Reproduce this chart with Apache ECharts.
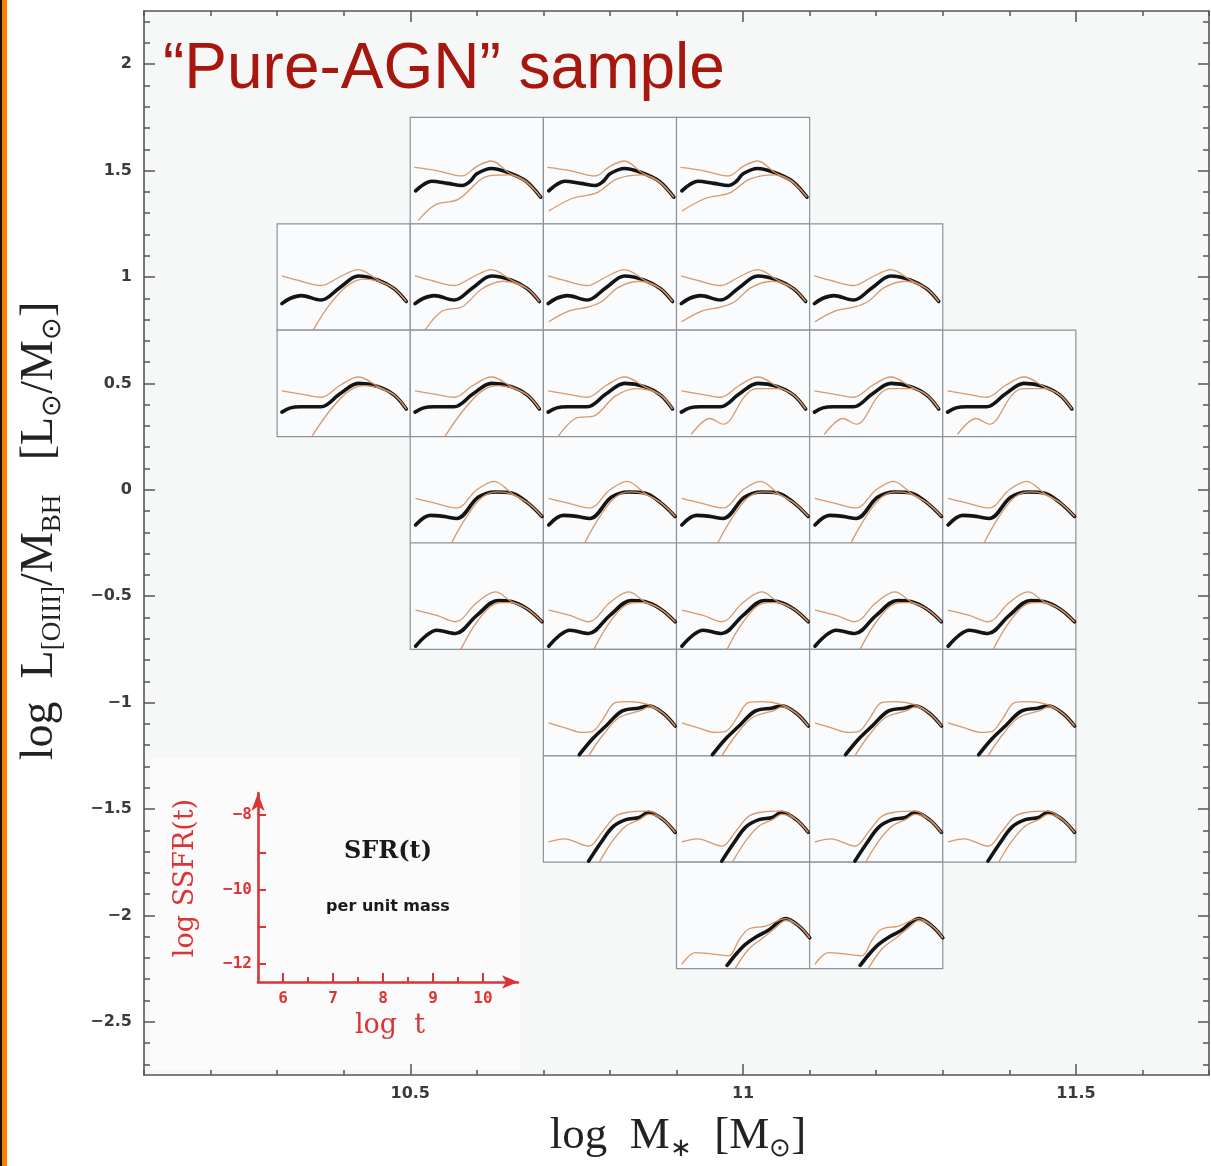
<!DOCTYPE html>
<html><head><meta charset="utf-8">
<script src="https://cdn.jsdelivr.net/npm/echarts@6/dist/echarts.min.js"></script>
<style>html,body{margin:0;padding:0;background:#fff}#c{width:1211px;height:1166px}</style>
</head><body><div id="c"></div>
<script>
// ---------- main axes ----------
const X_RANGE = [10.1, 11.7];
const Y_RANGE = [-2.75, 2.25];
const X_MAJOR = [10.5, 11, 11.5];
const Y_MAJOR = [2, 1.5, 1, 0.5, 0, -0.5, -1, -1.5, -2, -2.5];
// ---------- cells (log M*, log L/M_BH centres) ----------
const CELL_W = 0.2, CELL_H = 0.5;
const ROW_LUM    = [1.5, 1.0, 0.5, 0, -0.5, -1, -1.5, -2];
const ROW_MASSES = [
  [10.6, 10.8, 11.0],
  [10.4, 10.6, 10.8, 11.0, 11.2],
  [10.4, 10.6, 10.8, 11.0, 11.2, 11.4],
  [10.6, 10.8, 11.0, 11.2, 11.4],
  [10.6, 10.8, 11.0, 11.2, 11.4],
  [10.8, 11.0, 11.2, 11.4],
  [10.8, 11.0, 11.2, 11.4],
  [11.0, 11.2]
];
const ROW_SHAPE = ['R15', 'R10', 'R05', 'R00', 'RM05', 'RM10', 'RM15', 'RM20'];
const ROW_LOWER = [
  ['R15A', 'R15B', 'R15B'],
  ['R10A', 'R10B', 'R10C', 'R10C', 'R10C'],
  ['R05A', 'R05A', 'R05B', 'R05C', 'R05C', 'R05C'],
  ['R00', 'R00', 'R00', 'R00', 'R00'],
  ['RM05', 'RM05', 'RM05', 'RM05', 'RM05'],
  ['RM10', 'RM10', 'RM10', 'RM10'],
  ['RM15', 'RM15', 'RM15', 'RM15'],
  ['RM20', 'RM20']
];
// mini plots: [log t, log SSFR]
const MINI_T = [5.5, 10.5];
const MINI_S = [-13, -7];
const BLACK_R15 = [[5.7,-11.14],[6.0,-10.78],[6.3,-10.6],[6.9,-10.72],[7.45,-10.84],[7.75,-10.6],[8.0,-10.18],[8.55,-9.88],[9.2,-10.12],[9.85,-10.6],[10.4,-11.5]];
const UPPER_R15 = [[5.65,-9.82],[6.5,-10.0],[7.45,-10.3],[8.0,-9.76],[8.55,-9.46],[9.2,-10.12],[9.85,-10.6],[10.4,-11.5]];
const LOWER_R15A = [[5.8,-12.82],[6.45,-11.92],[7.3,-11.62],[8.45,-10.3],[9.2,-10.24],[9.85,-10.66],[10.4,-11.5]];
const LOWER_R15B = [[5.7,-12.28],[6.6,-11.56],[7.5,-11.26],[8.25,-10.48],[9.2,-10.24],[9.85,-10.66],[10.4,-11.5]];
const BLACK_R10 = [[5.68,-11.5],[6.0,-11.2],[6.4,-11.05],[7.15,-11.3],[7.85,-10.6],[8.55,-9.94],[9.3,-10.18],[9.9,-10.66],[10.35,-11.38]];
const UPPER_R10 = [[5.68,-9.94],[6.4,-10.24],[7.15,-10.48],[7.85,-10.0],[8.55,-9.58],[9.3,-10.18],[9.9,-10.66],[10.35,-11.38]];
const LOWER_R10A = [[6.85,-13],[7.5,-11.5],[8.2,-10.42],[8.8,-10.12],[9.3,-10.24],[9.9,-10.66],[10.35,-11.38]];
const LOWER_R10B = [[6.05,-13],[6.7,-11.92],[7.45,-11.68],[8.2,-10.66],[9.0,-10.24],[9.9,-10.66],[10.35,-11.38]];
const LOWER_R10C = [[5.7,-12.52],[6.45,-11.92],[7.2,-11.68],[7.7,-11.38],[8.3,-10.6],[9.1,-10.24],[9.9,-10.66],[10.35,-11.38]];
const BLACK_R05 = [[5.68,-11.62],[6.0,-11.38],[6.4,-11.32],[7.15,-11.32],[7.85,-10.6],[8.55,-10.0],[9.3,-10.18],[9.9,-10.66],[10.35,-11.44]];
const UPPER_R05 = [[5.68,-10.42],[6.4,-10.6],[7.15,-10.78],[7.85,-10.12],[8.55,-9.64],[9.3,-10.18],[9.9,-10.66],[10.35,-11.44]];
const LOWER_R05A = [[6.8,-13],[7.5,-11.5],[8.2,-10.42],[8.8,-10.12],[9.3,-10.24],[9.9,-10.66],[10.35,-11.44]];
const LOWER_R05B = [[6.05,-13],[6.7,-11.98],[7.45,-11.8],[8.2,-10.72],[9.0,-10.3],[9.9,-10.66],[10.35,-11.44]];
const LOWER_R05C = [[6.05,-12.88],[6.75,-11.98],[7.25,-12.3],[8.1,-10.66],[8.5,-10.3],[9.35,-10.3],[9.9,-10.66],[10.35,-11.44]];
const BLACK_R00 = [[5.7,-11.98],[6.25,-11.44],[6.75,-11.5],[7.25,-11.62],[8.05,-10.42],[8.7,-10.12],[9.3,-10.18],[9.9,-10.72],[10.45,-11.5]];
const UPPER_R00 = [[5.7,-10.48],[6.5,-10.78],[7.25,-11.02],[8.0,-10.0],[8.65,-9.52],[9.3,-10.18],[9.9,-10.72],[10.45,-11.5]];
const LOWER_R00 = [[7.05,-13],[7.6,-11.56],[8.2,-10.42],[8.8,-10.12],[9.3,-10.24],[9.9,-10.72],[10.45,-11.5]];
const BLACK_RM05 = [[5.7,-12.82],[6.1,-12.22],[6.5,-11.92],[7.2,-12.1],[8.0,-11.08],[8.8,-10.24],[9.3,-10.3],[9.9,-10.72],[10.45,-11.44]];
const UPPER_RM05 = [[5.7,-10.78],[6.5,-11.08],[7.2,-11.44],[8.0,-10.36],[8.7,-9.76],[9.3,-10.3],[9.9,-10.72],[10.45,-11.44]];
const LOWER_RM05 = [[7.4,-13],[7.9,-11.68],[8.5,-10.6],[9.0,-10.36],[9.3,-10.36],[9.9,-10.72],[10.45,-11.44]];
const BLACK_RM10 = [[6.85,-12.94],[7.35,-12.04],[7.85,-11.32],[8.45,-10.48],[9.1,-10.3],[9.45,-10.18],[10.0,-10.6],[10.45,-11.32]];
const UPPER_RM10 = [[5.7,-11.14],[6.35,-11.44],[6.95,-11.68],[7.35,-11.62],[7.75,-10.9],[8.2,-10.0],[8.7,-9.94],[9.45,-10.12],[10.0,-10.6],[10.45,-11.32]];
const LOWER_RM10 = [[7.2,-13],[7.75,-11.8],[8.35,-10.84],[9.2,-10.42],[9.45,-10.24],[10.0,-10.6],[10.45,-11.32]];
const BLACK_RM15 = [[7.2,-12.94],[7.65,-11.92],[8.1,-11.02],[8.6,-10.6],[9.1,-10.48],[9.45,-10.18],[10.0,-10.6],[10.45,-11.32]];
const UPPER_RM15 = [[5.7,-11.86],[6.3,-11.68],[7.2,-12.1],[7.7,-11.32],[8.2,-10.42],[8.7,-10.18],[9.45,-10.12],[10.0,-10.6],[10.45,-11.32]];
const LOWER_RM15 = [[7.6,-13],[8.1,-11.8],[8.6,-10.96],[9.1,-10.6],[9.45,-10.3],[10.0,-10.6],[10.45,-11.32]];
const BLACK_RM20 = [[7.4,-12.82],[7.75,-12.16],[8.1,-11.62],[8.5,-11.2],[8.95,-10.84],[9.6,-10.18],[10.1,-10.6],[10.5,-11.26]];
const UPPER_RM20 = [[5.7,-12.76],[6.2,-12.1],[6.75,-12.16],[7.45,-12.28],[7.85,-11.38],[8.2,-10.78],[8.85,-10.6],[9.6,-10.18],[10.1,-10.6],[10.5,-11.26]];
const LOWER_RM20 = [[7.7,-13],[8.2,-11.92],[8.7,-11.32],[9.2,-10.72],[9.6,-10.3],[10.1,-10.6],[10.5,-11.26]];
// ---------- inset (SFR(t) key) ----------
const INSET_T = [5.5, 10.7];
const INSET_S = [-12.5, -7.4];
const INSET_T_MAJOR = [6, 7, 8, 9, 10];
const INSET_T_MINOR = [6.5, 7.5, 8.5, 9.5];
const INSET_S_TICKS = [-8, -9, -10, -11, -12];
const INSET_S_LABELS = [-8, -10, -12];

const SHAPES = {
  R15: [BLACK_R15, UPPER_R15], R10: [BLACK_R10, UPPER_R10], R05: [BLACK_R05, UPPER_R05],
  R00: [BLACK_R00, UPPER_R00], RM05: [BLACK_RM05, UPPER_RM05], RM10: [BLACK_RM10, UPPER_RM10],
  RM15: [BLACK_RM15, UPPER_RM15], RM20: [BLACK_RM20, UPPER_RM20]
};
const LOWERS = {
  R15A: LOWER_R15A, R15B: LOWER_R15B, R10A: LOWER_R10A, R10B: LOWER_R10B, R10C: LOWER_R10C,
  R05A: LOWER_R05A, R05B: LOWER_R05B, R05C: LOWER_R05C, R00: LOWER_R00, RM05: LOWER_RM05,
  RM10: LOWER_RM10, RM15: LOWER_RM15, RM20: LOWER_RM20
};

const AX = '#555';
const RED = '#dc3434';
const ORANGE = '#d69463';
function fmt(v) { const a = Math.round(Math.abs(v) * 100) / 100; return (v < 0 ? '\u2212' : '') + a; }
const minorX = []; for (let i = 101; i <= 117; i++) minorX.push(i / 10);
const minorY = []; for (let i = -27; i <= 22; i++) minorY.push(i / 10);

const chart = echarts.init(document.getElementById('c'));

function mainAxis(pos, isX, major, showLine, showLabel, ticks, len) {
  return {
    gridIndex: 0, type: 'value', position: pos,
    min: isX ? X_RANGE[0] : Y_RANGE[0], max: isX ? X_RANGE[1] : Y_RANGE[1],
    axisLine: { show: showLine, onZero: false, lineStyle: { color: AX, width: 1.6 } },
    axisTick: { show: true, inside: true, length: len, customValues: ticks, lineStyle: { color: AX, width: 1.5 } },
    axisLabel: showLabel ? { show: true, customValues: major, formatter: fmt, color: '#3a3a3a',
      fontSize: 16, fontWeight: 'bold', fontFamily: 'DejaVu Sans', margin: isX ? 11 : 12 } : { show: false },
    splitLine: { show: false }
  };
}

const grids = [
  { left: 144, top: 11, width: 1065, height: 1064, show: true, backgroundColor: '#f6f7f7', borderWidth: 0, outerBoundsMode: 'none' },
  { left: 258, top: 793, width: 260, height: 189, show: false, outerBoundsMode: 'none' }
];
const xAxes = [
  mainAxis('bottom', true, X_MAJOR, true, true, X_MAJOR, 11),
  mainAxis('bottom', true, X_MAJOR, false, false, minorX, 5),
  mainAxis('top', true, X_MAJOR, true, false, X_MAJOR, 11),
  mainAxis('top', true, X_MAJOR, false, false, minorX, 5),
  { gridIndex: 1, type: 'value', position: 'bottom', min: INSET_T[0], max: INSET_T[1],
    axisLine: { show: true, onZero: false, symbol: ['none', 'arrow'], symbolSize: [10, 16], lineStyle: { color: RED, width: 2.6 } },
    axisTick: { show: true, inside: true, length: 9, customValues: INSET_T_MAJOR, lineStyle: { color: RED, width: 2 } },
    axisLabel: { customValues: INSET_T_MAJOR, color: RED, fontSize: 16, fontWeight: 'bold', fontFamily: 'DejaVu Sans Mono', margin: 9 },
    splitLine: { show: false } },
  { gridIndex: 1, type: 'value', position: 'bottom', min: INSET_T[0], max: INSET_T[1],
    axisLine: { show: false, onZero: false },
    axisTick: { show: true, inside: true, length: 5, customValues: INSET_T_MINOR, lineStyle: { color: RED, width: 2 } },
    axisLabel: { show: false }, splitLine: { show: false } }
];
const yAxes = [
  mainAxis('left', false, Y_MAJOR, true, true, Y_MAJOR, 11),
  mainAxis('left', false, Y_MAJOR, false, false, minorY, 6),
  mainAxis('right', false, Y_MAJOR, true, false, Y_MAJOR, 11),
  mainAxis('right', false, Y_MAJOR, false, false, minorY, 6),
  { gridIndex: 1, type: 'value', position: 'left', min: INSET_S[0], max: INSET_S[1],
    axisLine: { show: true, onZero: false, symbol: ['none', 'arrow'], symbolSize: [10, 18], lineStyle: { color: RED, width: 2.6 } },
    axisTick: { show: true, inside: true, length: 8, customValues: INSET_S_TICKS, lineStyle: { color: RED, width: 2 } },
    axisLabel: { customValues: INSET_S_LABELS, formatter: fmt, color: RED, fontSize: 16, fontWeight: 'bold', fontFamily: 'DejaVu Sans Mono', margin: 6 },
    splitLine: { show: false } },
  { gridIndex: 1, type: 'value', position: 'left', min: INSET_S[0], max: INSET_S[1], show: false }
];

const serif = 'Liberation Serif';
const graphics = [
  { type: 'rect', shape: { x: 0, y: 0, width: 2, height: 1166 }, style: { fill: '#111' }, z: 50 },
  { type: 'rect', shape: { x: 2, y: 0, width: 5, height: 1166 }, style: { fill: '#ff8000' }, z: 50 },
  { type: 'rect', shape: { x: 150, y: 758, width: 370, height: 312 }, style: { fill: '#fbfbfb' }, z: 0, silent: true },
  { type: 'text', x: 163, y: 70, z: 60, style: { text: '\u201cPure-AGN\u201d sample', fill: '#a8170e',
      font: '64px "Liberation Sans"', align: 'left', verticalAlign: 'middle' } },
  { type: 'text', x: 678, y: 1136, z: 60, style: {
      text: '{m|log  M}{s|\u2217}{m|  [M}{s|\u2299}{m|]}', align: 'center', verticalAlign: 'middle',
      rich: { m: { fontFamily: serif, fontSize: 45, fill: '#222', verticalAlign: 'middle' },
              s: { fontFamily: serif, fontSize: 26, fill: '#222', padding: [26, 0, 0, 0], verticalAlign: 'middle' } } } },
  { type: 'text', x: 40, y: 531, rotation: Math.PI / 2, z: 60, style: {
      text: '{m|log  L}{s|[OIII]}{m|/M}{s|BH}{m|   [L}{s|\u2299}{m|/M}{s|\u2299}{m|]}', align: 'center', verticalAlign: 'middle',
      rich: { m: { fontFamily: serif, fontSize: 46, fill: '#222', verticalAlign: 'middle' },
              s: { fontFamily: serif, fontSize: 27, fill: '#222', padding: [26, 0, 0, 0], verticalAlign: 'middle' } } } },
  { type: 'text', x: 388, y: 852, z: 60, style: { text: 'SFR(t)', fill: '#1a1a1a', font: 'bold 24px "DejaVu Serif"', align: 'center', verticalAlign: 'middle' } },
  { type: 'text', x: 388, y: 907, z: 60, style: { text: 'per unit mass', fill: '#1a1a1a', font: 'bold 16px "DejaVu Sans"', align: 'center', verticalAlign: 'middle' } },
  { type: 'text', x: 390, y: 1026, z: 60, style: { text: 'log  t', fill: RED, font: '27px "DejaVu Serif"', align: 'center', verticalAlign: 'middle' } },
  { type: 'text', x: 186, y: 878, rotation: Math.PI / 2, z: 60, style: { text: 'log SSFR(t)', fill: RED, font: '27px "DejaVu Serif"', align: 'center', verticalAlign: 'middle' } }
];

chart.setOption({ animation: false, backgroundColor: '#ffffff', grid: grids, xAxis: xAxes, yAxis: yAxes, graphic: graphics, series: [] });

// ----- place the mini-plot cells with the main axes' own scales -----
const cellGrids = [], cellX = [], cellY = [], series = [];
let k = 0;
ROW_LUM.forEach((lum, r) => {
  ROW_MASSES[r].forEach((mass, c) => {
    const x0 = chart.convertToPixel({ xAxisIndex: 0 }, mass - CELL_W / 2);
    const x1 = chart.convertToPixel({ xAxisIndex: 0 }, mass + CELL_W / 2);
    const y0 = chart.convertToPixel({ yAxisIndex: 0 }, lum + CELL_H / 2);
    const y1 = chart.convertToPixel({ yAxisIndex: 0 }, lum - CELL_H / 2);
    const gi = grids.length + k;
    cellGrids.push({ left: x0, top: y0, width: x1 - x0, height: y1 - y0, show: true,
      backgroundColor: '#f9fbfc', borderColor: '#8c939a', borderWidth: 1.2, outerBoundsMode: 'none' });
    cellX.push({ gridIndex: gi, type: 'value', min: MINI_T[0], max: MINI_T[1], show: false });
    cellY.push({ gridIndex: gi, type: 'value', min: MINI_S[0], max: MINI_S[1], show: false });
    const ax = xAxes.length + k;
    const shp = SHAPES[ROW_SHAPE[r]];
    const common = { type: 'line', xAxisIndex: ax, yAxisIndex: ax, smooth: 0.35, showSymbol: false, silent: true, clip: true };
    series.push(Object.assign({}, common, { data: shp[0], z: 3, lineStyle: { color: '#141414', width: 3.6, cap: 'round', join: 'round' } }));
    series.push(Object.assign({}, common, { data: shp[1], z: 4, lineStyle: { color: ORANGE, width: 1.3, opacity: 0.95 } }));
    series.push(Object.assign({}, common, { data: LOWERS[ROW_LOWER[r][c]], z: 4, lineStyle: { color: ORANGE, width: 1.3, opacity: 0.95 } }));
    k++;
  });
});

chart.setOption({
  grid: grids.concat(cellGrids),
  xAxis: xAxes.concat(cellX),
  yAxis: yAxes.concat(cellY),
  series: series
});
</script></body></html>
